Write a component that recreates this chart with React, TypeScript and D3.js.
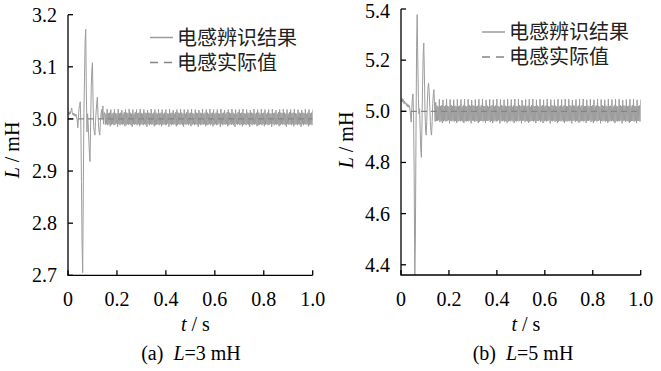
import React from 'react';
import * as d3 from 'd3';

// ---------- data ----------
const T_STEP = 0.0025; // sampling step of the identified-inductance traces (s)
const X_TICKS = [0, 0.2, 0.4, 0.6, 0.8, 1.0];
const X_TICK_LABELS = ['0', '0.2', '0.4', '0.6', '0.8', '1.0'];
const Y_TICKS_A = [2.7, 2.8, 2.9, 3.0, 3.1, 3.2];
const Y_TICK_LABELS_A = ['2.7', '2.8', '2.9', '3.0', '3.1', '3.2'];
const Y_TICKS_B = [4.4, 4.6, 4.8, 5.0, 5.2, 5.4];
const Y_TICK_LABELS_B = ['4.4', '4.6', '4.8', '5.0', '5.2', '5.4'];
const LEGEND_LABELS = ['电感辨识结果', '电感实际值'];
const L_ACTUAL_A = 3.0;
const L_ACTUAL_B = 5.0;

// (a) L = 3 mH, identified inductance (mH)
const L_ID_A = [
  3.010,3.012,3.008,3.014,3.010,3.016,3.021,3.012,3.008,3.011,
  3.006,3.010,3.005,3.009,3.004,2.998,2.983,3.002,3.020,3.026,
  3.033,2.990,2.880,2.760,2.705,2.860,3.010,3.080,3.150,3.172,
  3.050,2.975,3.010,2.990,2.960,2.935,2.918,2.990,3.060,3.095,
  3.108,3.030,2.985,2.975,2.969,2.995,3.015,3.030,3.042,3.010,
  2.985,2.975,2.969,2.995,3.010,3.018,3.000,3.025,2.990,3.012,
  3.012,2.989,3.010,2.990,3.019,2.988,3.011,2.990,3.012,2.986,3.018,2.989,
  3.010,2.990,3.012,2.988,3.018,2.989,3.011,2.991,3.010,2.985,3.019,2.990,
  3.011,2.988,3.012,2.990,3.017,2.989,3.010,2.990,3.013,2.986,3.018,2.988,
  3.012,2.990,3.011,2.989,3.019,2.990,3.012,2.988,3.010,2.985,3.018,2.990,
  3.010,2.989,3.013,2.990,3.018,2.988,3.011,2.990,3.012,2.986,3.019,2.989,
  3.011,2.990,3.010,2.988,3.018,2.990,3.012,2.989,3.011,2.985,3.017,2.990,
  3.012,2.988,3.011,2.990,3.019,2.989,3.010,2.990,3.012,2.986,3.018,2.988,
  3.012,2.989,3.010,2.990,3.019,2.988,3.011,2.990,3.012,2.986,3.018,2.989,
  3.010,2.990,3.012,2.988,3.018,2.989,3.011,2.991,3.010,2.985,3.019,2.990,
  3.011,2.988,3.012,2.990,3.017,2.989,3.010,2.990,3.013,2.986,3.018,2.988,
  3.012,2.990,3.011,2.989,3.019,2.990,3.012,2.988,3.010,2.985,3.018,2.990,
  3.010,2.989,3.013,2.990,3.018,2.988,3.011,2.990,3.012,2.986,3.019,2.989,
  3.011,2.990,3.010,2.988,3.018,2.990,3.012,2.989,3.011,2.985,3.017,2.990,
  3.012,2.988,3.011,2.990,3.019,2.989,3.010,2.990,3.012,2.986,3.018,2.988,
  3.012,2.989,3.010,2.990,3.019,2.988,3.011,2.990,3.012,2.986,3.018,2.989,
  3.010,2.990,3.012,2.988,3.018,2.989,3.011,2.991,3.010,2.985,3.019,2.990,
  3.011,2.988,3.012,2.990,3.017,2.989,3.010,2.990,3.013,2.986,3.018,2.988,
  3.012,2.990,3.011,2.989,3.019,2.990,3.012,2.988,3.010,2.985,3.018,2.990,
  3.010,2.989,3.013,2.990,3.018,2.988,3.011,2.990,3.012,2.986,3.019,2.989,
  3.011,2.990,3.010,2.988,3.018,2.990,3.012,2.989,3.011,2.985,3.017,2.990,
  3.012,2.988,3.011,2.990,3.019,2.989,3.010,2.990,3.012,2.986,3.018,2.988,
  3.012,2.989,3.010,2.990,3.019,2.988,3.011,2.990,3.012,2.986,3.018,2.989,
  3.010,2.990,3.012,2.988,3.018,2.989,3.011,2.991,3.010,2.985,3.019,2.990,
  3.011,2.988,3.012,2.990,3.017,2.989,3.010,2.990,3.013,2.986,3.018,2.988,
  3.012,2.990,3.011,2.989,3.019,2.990,3.012,2.988,3.010,2.985,3.018,2.990,
  3.010,2.989,3.013,2.990,3.018,2.988,3.011,2.990,3.012,2.986,3.019,2.989,
  3.011,2.990,3.010,2.988,3.018,2.990,3.012,2.989,3.011,2.985,3.017,2.990,
  3.012,2.988,3.011,2.990,3.019,2.989,3.010,2.990,3.012,2.986,3.018,2.988,
  3.011,2.990,3.012,2.988,3.018,
];

// (b) L = 5 mH, identified inductance (mH)
const L_ID_B = [
  5.045,5.038,5.050,5.036,5.046,5.030,5.040,5.028,5.034,5.022,
  5.030,5.018,5.026,5.016,5.022,5.005,4.985,4.958,5.010,5.050,
  5.068,4.980,4.750,4.330,4.500,4.900,5.250,5.378,5.200,5.050,
  4.990,5.010,4.930,4.850,4.820,4.950,5.100,5.220,5.267,5.150,
  5.000,4.930,4.907,4.960,5.040,5.090,5.110,5.080,5.020,4.960,
  4.920,4.907,4.960,5.030,5.070,5.085,5.020,4.960,5.035,4.962,
  5.022,4.962,5.018,4.965,5.047,4.958,5.020,4.963,5.024,4.954,5.045,4.961,
  5.019,4.964,5.023,4.960,5.048,4.962,5.021,4.965,5.018,4.953,5.046,4.963,
  5.024,4.961,5.020,4.964,5.045,4.959,5.022,4.962,5.019,4.955,5.047,4.960,
  5.020,4.963,5.022,4.961,5.046,4.964,5.018,4.960,5.023,4.954,5.048,4.962,
  5.021,4.960,5.019,4.963,5.047,4.961,5.024,4.964,5.020,4.953,5.044,4.963,
  5.023,4.964,5.021,4.959,5.046,4.962,5.019,4.961,5.022,4.955,5.047,4.960,
  5.018,4.962,5.024,4.963,5.048,4.960,5.021,4.963,5.020,4.954,5.045,4.962,
  5.022,4.962,5.018,4.965,5.047,4.958,5.020,4.963,5.024,4.954,5.045,4.961,
  5.019,4.964,5.023,4.960,5.048,4.962,5.021,4.965,5.018,4.953,5.046,4.963,
  5.024,4.961,5.020,4.964,5.045,4.959,5.022,4.962,5.019,4.955,5.047,4.960,
  5.020,4.963,5.022,4.961,5.046,4.964,5.018,4.960,5.023,4.954,5.048,4.962,
  5.021,4.960,5.019,4.963,5.047,4.961,5.024,4.964,5.020,4.953,5.044,4.963,
  5.023,4.964,5.021,4.959,5.046,4.962,5.019,4.961,5.022,4.955,5.047,4.960,
  5.018,4.962,5.024,4.963,5.048,4.960,5.021,4.963,5.020,4.954,5.045,4.962,
  5.022,4.962,5.018,4.965,5.047,4.958,5.020,4.963,5.024,4.954,5.045,4.961,
  5.019,4.964,5.023,4.960,5.048,4.962,5.021,4.965,5.018,4.953,5.046,4.963,
  5.024,4.961,5.020,4.964,5.045,4.959,5.022,4.962,5.019,4.955,5.047,4.960,
  5.020,4.963,5.022,4.961,5.046,4.964,5.018,4.960,5.023,4.954,5.048,4.962,
  5.021,4.960,5.019,4.963,5.047,4.961,5.024,4.964,5.020,4.953,5.044,4.963,
  5.023,4.964,5.021,4.959,5.046,4.962,5.019,4.961,5.022,4.955,5.047,4.960,
  5.018,4.962,5.024,4.963,5.048,4.960,5.021,4.963,5.020,4.954,5.045,4.962,
  5.022,4.962,5.018,4.965,5.047,4.958,5.020,4.963,5.024,4.954,5.045,4.961,
  5.019,4.964,5.023,4.960,5.048,4.962,5.021,4.965,5.018,4.953,5.046,4.963,
  5.024,4.961,5.020,4.964,5.045,4.959,5.022,4.962,5.019,4.955,5.047,4.960,
  5.020,4.963,5.022,4.961,5.046,4.964,5.018,4.960,5.023,4.954,5.048,4.962,
  5.021,4.960,5.019,4.963,5.047,4.961,5.024,4.964,5.020,4.953,5.044,4.963,
  5.023,4.964,5.021,4.959,5.046,4.962,5.019,4.961,5.022,4.955,5.047,4.960,
  5.018,4.962,5.024,4.963,5.048,4.960,5.021,4.963,5.020,4.954,5.045,4.962,
  5.021,4.962,5.023,4.960,5.046,
];

// ---------- styling ----------
const SERIF = 'Liberation Serif, Times New Roman, Times, serif';
const CJK = 'Noto Sans CJK SC, Noto Sans, sans-serif';
const ID_COLOR = '#9c9c9c';
const ACT_COLOR = '#858585';

type PanelProps = {
  id: string;
  values: number[];
  actual: number;
  yDomain: [number, number];
  yTicks: number[];
  yTickLabels: string[];
  x0: number; x1: number; yTop: number; yBottom: number;
  yLabelX: number; yLabelY: number;
  legendX: number; legendY: number;
  caption: string; captionValue: string;
  captionX: number;
};

const serifStyle = { fontFamily: SERIF };
const cjkStyle = { fontFamily: CJK };

function Panel(p: PanelProps) {
  const x = d3.scaleLinear().domain([0, 1]).range([p.x0, p.x1]);
  const y = d3.scaleLinear().domain(p.yDomain).range([p.yBottom, p.yTop]);
  const pts = p.values.map((v, i) => [i * T_STEP, v] as [number, number]);
  const line = d3.line<[number, number]>().x(d => x(d[0])).y(d => y(d[1]));
  const actualPath = line([[0, p.actual], [1, p.actual]]) || '';
  const clipId = `clip-${p.id}`;
  const tickLen = 5;
  const xCenter = (p.x0 + p.x1) / 2;
  return (
    <g>
      <defs>
        <clipPath id={clipId}>
          <rect x={p.x0} y={p.yTop - 2} width={p.x1 - p.x0} height={p.yBottom - p.yTop + 2} />
        </clipPath>
      </defs>
      <g clipPath={`url(#${clipId})`}>
        <path d={line(pts) || ''} fill="none" stroke={ID_COLOR} strokeWidth={1} strokeLinejoin="round" />
        <path d={actualPath} fill="none" stroke={ACT_COLOR} strokeWidth={1.3} strokeDasharray="6,4" />
      </g>
      {/* axes */}
      <path d={`M${p.x0},${p.yTop}V${p.yBottom}H${p.x1}`} fill="none" stroke="#000" strokeWidth={1.3} />
      {p.yTicks.map((t, i) => (
        <g key={`yt${i}`}>
          <line x1={p.x0} x2={p.x0 + tickLen} y1={y(t)} y2={y(t)} stroke="#000" strokeWidth={1.3} />
          <text x={p.x0 - 11} y={Math.max(y(t), 11)} dy="0.35em" textAnchor="end" style={serifStyle} fontSize={20} fill="#000">
            {p.yTickLabels[i]}
          </text>
        </g>
      ))}
      {X_TICKS.map((t, i) => (
        <g key={`xt${i}`}>
          <line x1={x(t)} x2={x(t)} y1={p.yBottom} y2={p.yBottom - tickLen} stroke="#000" strokeWidth={1.3} />
          <text x={x(t)} y={p.yBottom + 31} textAnchor="middle" style={serifStyle} fontSize={20} fill="#000">
            {X_TICK_LABELS[i]}
          </text>
        </g>
      ))}
      {/* axis titles */}
      <text x={xCenter + 5} y={331} textAnchor="middle" style={serifStyle} fontSize={20} fill="#000">
        <tspan fontStyle="italic">t</tspan> / s
      </text>
      <text transform={`translate(${p.yLabelX},${p.yLabelY}) rotate(-90)`} textAnchor="middle" dy="0.35em"
        style={serifStyle} fontSize={20} fill="#000">
        <tspan fontStyle="italic">L</tspan> / mH
      </text>
      {/* caption */}
      <text x={p.captionX} y={360} textAnchor="middle" style={serifStyle} fontSize={20} fill="#000">
        {p.caption}{'\u00a0\u00a0'}<tspan fontStyle="italic">L</tspan>{p.captionValue}
      </text>
      {/* legend */}
      <line x1={p.legendX} x2={p.legendX + 23} y1={p.legendY} y2={p.legendY} stroke={ID_COLOR} strokeWidth={1.5} />
      <text x={p.legendX + 27} y={p.legendY} dy="0.36em" style={cjkStyle} fontSize={20} fill="#222">
        {LEGEND_LABELS[0]}
      </text>
      <line x1={p.legendX} x2={p.legendX + 23} y1={p.legendY + 25} y2={p.legendY + 25} stroke={ACT_COLOR}
        strokeWidth={1.5} strokeDasharray="8,6" />
      <text x={p.legendX + 27} y={p.legendY + 25} dy="0.36em" style={cjkStyle} fontSize={20} fill="#222">
        {LEGEND_LABELS[1]}
      </text>
    </g>
  );
}

export default function App() {
  return (
    <svg width={661} height={371} viewBox="0 0 661 371"
      style={{ position: 'absolute', left: 0, top: 0, background: '#fff' }}>
      <rect width={661} height={371} fill="#fff" />
      <Panel id="a" values={L_ID_A} actual={L_ACTUAL_A} yDomain={[2.7, 3.2]}
        yTicks={Y_TICKS_A} yTickLabels={Y_TICK_LABELS_A}
        x0={68} x1={312.7} yTop={14.7} yBottom={275.3}
        yLabelX={12} yLabelY={150} legendX={150} legendY={37.5}
        caption="(a)" captionValue="=3 mH" captionX={191} />
      <Panel id="b" values={L_ID_B} actual={L_ACTUAL_B} yDomain={[4.36, 5.4]}
        yTicks={Y_TICKS_B} yTickLabels={Y_TICK_LABELS_B}
        x0={401} x1={640.7} yTop={9} yBottom={275}
        yLabelX={346} yLabelY={140} legendX={482} legendY={32}
        caption="(b)" captionValue="=5 mH" captionX={523} />
    </svg>
  );
}
